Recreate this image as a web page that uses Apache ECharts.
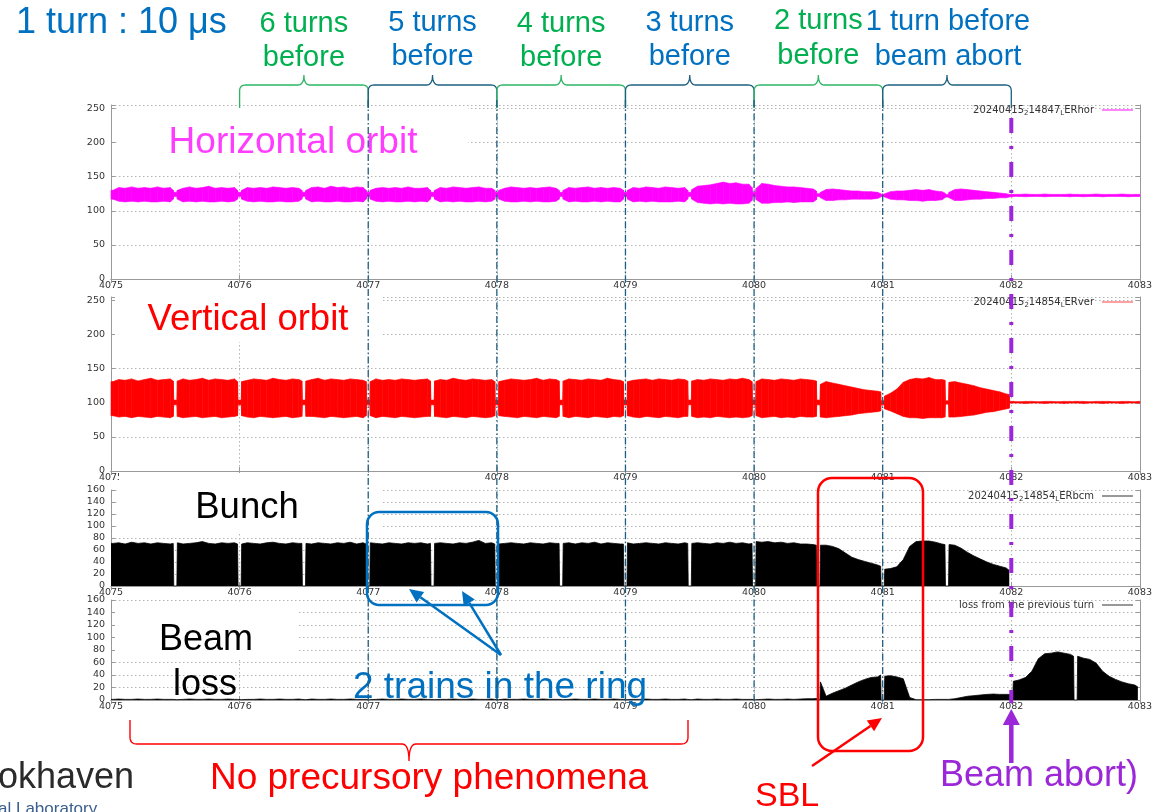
<!DOCTYPE html>
<html>
<head>
<meta charset="utf-8">
<script src="https://cdn.jsdelivr.net/npm/echarts@6/dist/echarts.min.js"></script>
<style>
  html, body { margin: 0; padding: 0; background: #fff; }
  #chart { width: 1155px; height: 812px; }
</style>
</head>
<body>
<div id="chart"></div>
<script>
// ---- turn axis: each bunch train fills half a turn ----
const trainStart = [4075.0, 4075.5, 4076.0, 4076.5, 4077.0, 4077.5, 4078.0, 4078.5,
                    4079.0, 4079.5, 4080.0, 4080.5, 4081.0, 4081.5, 4082.0, 4082.5];
// sample positions inside one train (turns after the train start)
const sampleOffset = [0.016, 0.06, 0.11, 0.16, 0.21, 0.26, 0.31, 0.36, 0.41, 0.46, 0.484];
const turnTicks = [4075, 4076, 4077, 4078, 4079, 4080, 4081, 4082, 4083];

// ---- horizontal orbit (LERhor): envelope of the oscillation, one row per train ----
const horHigh = [
  [130, 134, 133, 135, 133, 134, 133, 135, 133, 134, 130],
  [130, 133, 135, 133, 134, 136, 133, 134, 133, 134, 130],
  [130, 134, 133, 134, 133, 135, 134, 133, 134, 133, 130],
  [130, 134, 135, 133, 136, 134, 135, 133, 135, 134, 130],
  [130, 133, 134, 133, 134, 133, 135, 133, 133, 134, 130],
  [130, 134, 133, 135, 134, 133, 134, 135, 133, 133, 130],
  [130, 133, 135, 134, 133, 134, 133, 134, 135, 133, 130],
  [130, 134, 133, 134, 135, 133, 134, 133, 134, 133, 130],
  [130, 134, 133, 135, 134, 133, 135, 134, 133, 134, 130],
  [131, 136, 137, 138, 140, 142, 140, 141, 139, 139, 134],
  [133, 140, 139, 137, 136, 135, 135, 134, 133, 132, 129],
  [127, 131, 132, 131, 130, 129, 129, 128, 128, 127, 125],
  [125, 128, 129, 129, 130, 131, 130, 131, 129, 128, 126],
  [127, 131, 132, 131, 130, 129, 128, 127, 126, 125, 124],
  [124, 124, 124.5, 124, 124, 124.5, 124, 124, 124, 124.5, 124],
  [124, 124, 124, 124.5, 124, 124, 124, 124.5, 124, 124, 124]
];
const horLow = [
  [117, 114, 113, 114, 113, 114, 113, 113, 114, 113, 117],
  [117, 113, 114, 113, 114, 113, 113, 114, 113, 114, 117],
  [117, 114, 113, 114, 113, 113, 114, 113, 113, 114, 117],
  [117, 113, 114, 113, 113, 114, 113, 113, 114, 113, 117],
  [117, 114, 113, 114, 113, 113, 114, 113, 114, 113, 117],
  [117, 113, 114, 113, 114, 113, 113, 114, 113, 114, 117],
  [117, 114, 113, 113, 114, 113, 114, 113, 113, 114, 117],
  [117, 113, 114, 113, 113, 114, 113, 114, 113, 113, 117],
  [117, 113, 114, 113, 114, 113, 113, 113, 114, 113, 117],
  [117, 112, 111, 110, 111, 110, 111, 110, 110, 111, 115],
  [116, 111, 111, 112, 112, 113, 112, 113, 113, 113, 116],
  [119, 115, 115, 116, 116, 117, 117, 117, 117, 118, 120],
  [120, 117, 116, 116, 115, 115, 114, 115, 115, 116, 119],
  [119, 115, 115, 116, 117, 117, 118, 118, 119, 119, 120],
  [121, 121, 120.5, 121, 121, 120.5, 121, 121, 121, 120.5, 121],
  [121, 120.5, 121, 121, 120.5, 121, 121, 121, 120.5, 121, 121]
];
// level in the short gaps between trains (4075.5 ... 4082.5)
const horGapLow  = [121, 121, 121, 121, 121, 121, 121, 121, 121, 121, 121, 121, 120, 120.5, 121];
const horGapHigh = [127, 127, 127, 127, 127, 127, 127, 127, 127, 127, 125, 124, 124, 124, 124];

// ---- vertical orbit (LERver) ----
const verHigh = [
  [131, 134, 133, 135, 132, 134, 136, 133, 134, 135, 132],
  [132, 135, 133, 134, 136, 133, 135, 134, 133, 135, 131],
  [131, 133, 135, 134, 133, 136, 134, 133, 135, 134, 132],
  [132, 134, 136, 133, 135, 134, 133, 135, 134, 133, 131],
  [131, 135, 133, 134, 133, 135, 134, 133, 134, 135, 132],
  [132, 134, 133, 136, 134, 133, 135, 134, 133, 134, 131],
  [131, 133, 135, 134, 133, 134, 136, 133, 135, 134, 132],
  [132, 135, 134, 133, 135, 134, 133, 136, 134, 133, 131],
  [131, 133, 134, 135, 133, 135, 134, 133, 135, 134, 132],
  [132, 134, 133, 135, 134, 133, 135, 134, 136, 134, 131],
  [131, 135, 134, 133, 135, 134, 133, 135, 134, 133, 132],
  [127, 131, 129, 127, 125, 123, 121, 119, 118, 117, 116],
  [110, 114, 120, 130, 134, 136, 135, 137, 134, 134, 133],
  [130, 131, 129, 127, 125, 122, 120, 118, 116, 113, 112],
  [102, 101.5, 102, 102, 101.5, 102, 102, 101.5, 102, 102, 101.5],
  [102, 102, 101.5, 102, 102, 102, 101.5, 102, 102, 101.5, 102]
];
const verLow = [
  [81, 79, 80, 78, 80, 79, 78, 80, 79, 78, 80],
  [80, 78, 79, 80, 78, 79, 80, 78, 79, 80, 81],
  [81, 79, 78, 80, 79, 78, 79, 80, 78, 79, 80],
  [80, 80, 79, 78, 80, 79, 78, 79, 80, 78, 81],
  [81, 78, 80, 79, 78, 80, 79, 78, 79, 80, 80],
  [80, 79, 78, 80, 79, 78, 80, 79, 78, 79, 81],
  [81, 80, 79, 78, 80, 79, 78, 80, 79, 78, 80],
  [80, 78, 80, 79, 78, 80, 79, 78, 80, 79, 81],
  [81, 79, 78, 80, 79, 78, 80, 79, 78, 80, 80],
  [80, 78, 79, 78, 80, 79, 78, 79, 78, 79, 81],
  [81, 78, 79, 80, 78, 79, 78, 80, 79, 79, 80],
  [79, 78, 79, 80, 81, 82, 84, 85, 86, 87, 88],
  [91, 88, 84, 80, 78, 78, 77, 78, 78, 78, 79],
  [79, 79, 80, 81, 82, 84, 86, 87, 89, 91, 92],
  [99.5, 99.5, 99, 99.5, 99.5, 99, 99.5, 99.5, 99, 99.5, 99.5],
  [99.5, 99, 99.5, 99.5, 99, 99.5, 99.5, 99, 99.5, 99.5, 99.5]
];
const verGapLow  = [97, 97, 97, 97, 97, 97, 97, 97, 97, 97, 97, 97, 98, 99.5, 99.5];
const verGapHigh = [104, 104, 104, 104, 104, 104, 104, 104, 104, 104, 104, 103, 103, 102, 102];

// ---- bunch current (LERbcm), top of the filled trains ----
const bunch = [
  [71, 72, 70, 73, 71, 72, 70, 72, 71, 70, 71],
  [72, 70, 71, 72, 74, 71, 70, 72, 71, 72, 70],
  [70, 72, 71, 70, 72, 73, 71, 70, 72, 71, 71],
  [71, 70, 72, 71, 70, 72, 71, 73, 70, 72, 70],
  [72, 71, 70, 72, 71, 70, 72, 71, 72, 70, 71],
  [71, 72, 71, 70, 72, 71, 73, 76, 71, 72, 70],
  [70, 71, 72, 71, 70, 72, 71, 70, 72, 71, 71],
  [71, 72, 70, 72, 71, 73, 70, 72, 71, 70, 70],
  [72, 70, 71, 72, 71, 70, 72, 71, 70, 72, 71],
  [71, 72, 71, 70, 72, 71, 73, 71, 72, 70, 71],
  [74, 73, 74, 72, 73, 71, 72, 70, 70, 69, 68],
  [68, 68, 66, 62, 55, 48, 44, 41, 38, 35, 33],
  [28, 29, 32, 44, 66, 74, 75, 75, 73, 70, 69],
  [69, 68, 63, 56, 50, 45, 40, 36, 33, 30, 26],
  [null, null, null, null, null, null, null, null, null, null, null],
  [null, null, null, null, null, null, null, null, null, null, null]
];
const bunchGap = [0, 0, 0, 0, 0, 0, 0, 0, 0, 0, 0, 0, 0, null, null];

// ---- loss from the previous turn ----
const loss = [
  [1, 1.5, 1, 1, 1.5, 1, 1, 1.5, 1, 1, 1],
  [1, 1, 1.5, 1, 1, 1.5, 1, 1, 1.5, 1, 1],
  [1.5, 1, 1, 1.5, 1, 1, 1.5, 1, 1, 1.5, 1],
  [1, 1.5, 1, 1, 1.5, 1, 1, 1.5, 1, 1, 1],
  [1, 1, 1.5, 1, 1, 1.5, 1, 1, 1.5, 1, 1],
  [1.5, 1, 1, 1.5, 1, 1, 1.5, 1, 1, 1.5, 1],
  [1, 1.5, 1, 1, 1.5, 1, 1, 1.5, 1, 1, 1],
  [1, 1, 1.5, 1, 1, 1.5, 1, 1, 1.5, 1, 1],
  [1.5, 1, 1, 1.5, 1, 1, 1.5, 1, 1, 1.5, 1],
  [1, 1.5, 1, 1, 1.5, 1, 1, 1.5, 1, 1, 1],
  [1, 1, 1.5, 1, 1, 1.5, 1, 1.5, 2, 2, 2.5],
  [29, 6, 11, 15, 19, 24, 29, 33, 36, 37, 40],
  [38, 39, 37, 34, 4, 0.5, 0.5, 0.5, 1, 1, 1],
  [1.5, 2, 4, 6, 7, 8, 9, 9.5, 9, 9, 9],
  [30, 32, 36, 46, 66, 74, 75, 77, 75, 73, 70],
  [70, 67, 65, 59, 46, 38, 33, 29, 26, 24, 21]
];
const lossGap = [0.5, 0.5, 0.5, 0.5, 0.5, 0.5, 0.5, 0.5, 0.5, 0.5, 0, 0, 1, 9, 0];

// ---- panel scales ----
const yMax  = [255, 255, 160, 160];
const yStep = [50, 50, 20, 20];

// Turn the per-train rows into [turn, v1, v2, ...] points, with a narrow gap between trains.
const GAP_HALF = 0.012;
function buildTrace(rowSets, gapSets, extendToEnd) {
  const pts = [];
  const add = (x, vals) => pts.push([x].concat(vals));
  add(trainStart[0], rowSets.map(r => r[0][0]));
  trainStart.forEach((s, k) => {
    if (k > 0) {
      const g = gapSets.map(gs => gs[k - 1]);
      add(s - GAP_HALF, g);
      add(s + GAP_HALF, g);
    }
    sampleOffset.forEach((o, j) => add(s + o, rowSets.map(r => r[k][j])));
  });
  if (extendToEnd) {
    const last = pts[pts.length - 1];
    add(turnTicks[turnTicks.length - 1], last.slice(1));
  }
  return pts;
}

const horPts   = buildTrace([horLow, horHigh], [horGapLow, horGapHigh], true);
const verPts   = buildTrace([verLow, verHigh], [verGapLow, verGapHigh], true);
const bunchPts = buildTrace([bunch], [bunchGap], false);
const lossPts  = buildTrace([loss], [lossGap], false);

const chart = echarts.init(document.getElementById('chart'));

const grids = [
  { left: 111, top: 105, width: 1034, height: 174 },
  { left: 111, top: 297, width: 1034, height: 174 },
  { left: 111, top: 490, width: 1034, height: 96 },
  { left: 111, top: 600, width: 1034, height: 100 }
];

const tickFont = { fontFamily: 'DejaVu Sans', fontSize: 9.5, color: '#333' };
const frame = { show: true, lineStyle: { color: '#999', width: 1 } };
const dotted = { show: true, lineStyle: { color: '#b4b4b4', width: 1, type: [1.5, 2.5] } };

const xAxes = [], yAxes = [];
grids.forEach((g, i) => {
  xAxes.push({
    type: 'value', gridIndex: i, min: turnTicks[0], max: turnTicks[turnTicks.length - 1], interval: 1,
    axisLine: frame, axisTick: { inside: true, length: 4, lineStyle: { color: '#999' } },
    axisLabel: Object.assign({ margin: 2, formatter: v => String(v) }, tickFont),
    splitLine: dotted
  });
  yAxes.push({
    type: 'value', gridIndex: i, min: 0, max: yMax[i], interval: yStep[i],
    axisLine: frame, axisTick: { inside: true, length: 4, lineStyle: { color: '#999' } },
    axisLabel: Object.assign({ margin: 6, formatter: v => (v % yStep[i] === 0 ? String(v) : '') }, tickFont),
    splitLine: dotted
  });
});
grids.forEach((g, i) => {
  xAxes.push({
    type: 'value', gridIndex: i, position: 'top', min: turnTicks[0], max: turnTicks[turnTicks.length - 1], interval: 1,
    axisLine: frame, axisTick: { inside: true, length: 4, lineStyle: { color: '#999' } },
    axisLabel: { show: false }, splitLine: { show: false }
  });
  yAxes.push({
    type: 'value', gridIndex: i, position: 'right', min: 0, max: yMax[i], interval: yStep[i],
    axisLine: frame, axisTick: { inside: true, length: 4, lineStyle: { color: '#999' } },
    axisLabel: { show: false }, splitLine: { show: false }
  });
});

// Filled band between the lower and upper envelope, one quad per sample step.
function bandSeries(name, idx, pts, color) {
  return {
    name, type: 'custom', xAxisIndex: idx, yAxisIndex: idx, data: pts,
    encode: { x: 0, y: [1, 2] }, silent: true, animation: false,
    renderItem(params, api) {
      const i = params.dataIndex;
      if (i >= pts.length - 1) return { type: 'group', children: [] };
      const a = pts[i], b = pts[i + 1];
      return {
        type: 'polygon',
        shape: { points: [api.coord([a[0], a[2]]), api.coord([b[0], b[2]]),
                          api.coord([b[0], b[1]]), api.coord([a[0], a[1]])] },
        style: { fill: color, stroke: color, lineWidth: 0.6 }
      };
    }
  };
}
function filledSeries(name, idx, pts) {
  return {
    name, type: 'line', xAxisIndex: idx, yAxisIndex: idx, data: pts,
    symbol: 'none', showSymbol: false, silent: true, animation: false,
    lineStyle: { color: '#000', width: 0.8 }, areaStyle: { color: '#000', opacity: 1 }
  };
}

chart.setOption({
  backgroundColor: '#fff',
  animation: false,
  grid: grids,
  xAxis: xAxes,
  yAxis: yAxes,
  series: [
    bandSeries('LERhor', 0, horPts, '#ff00ff'),
    bandSeries('LERver', 1, verPts, '#ff0000'),
    filledSeries('LERbcm', 2, bunchPts),
    filledSeries('loss from the previous turn', 3, lossPts)
  ]
});

// ---- slide annotations ----
const px = v => chart.convertToPixel({ xAxisIndex: 0 }, v);
const BLUE = '#0070C0', GREEN = '#00B050', RED = '#FF0000', PURPLE = '#9B27D8';
const TEAL = '#1D5F80', LIGHTGREEN = '#2DB565';
const SANS = '"Liberation Sans", Arial, sans-serif';

const gfx = [];
function txt(text, x, y, size, color, align, z) {
  gfx.push({ type: 'text', x, y, z: z || 120, silent: true,
    style: { text, fill: color, fontSize: size, fontFamily: SANS, align: align || 'center', verticalAlign: 'middle' } });
}
function quadPts(out, p0, c, p1) {
  for (let t = 0; t <= 1.0001; t += 0.125) {
    const u = 1 - t;
    out.push([u * u * p0[0] + 2 * u * t * c[0] + t * t * p1[0], u * u * p0[1] + 2 * u * t * c[1] + t * t * p1[1]]);
  }
}
function brace(x1, x2, yEnd, yBar, yTip, r, color, w) {
  const xm = (x1 + x2) / 2, s = Math.sign(yEnd - yBar);
  const p = [[x1, yEnd]];
  quadPts(p, [x1, yBar + s * r], [x1, yBar], [x1 + r, yBar]);
  quadPts(p, [xm - r, yBar], [xm, yBar], [xm, yTip]);
  quadPts(p, [xm, yTip], [xm, yBar], [xm + r, yBar]);
  quadPts(p, [x2 - r, yBar], [x2, yBar], [x2, yBar + s * r]);
  p.push([x2, yEnd]);
  gfx.push({ type: 'polyline', z: 130, silent: true, shape: { points: p },
    style: { stroke: color, lineWidth: w, fill: null } });
}
function arrow(x1, y1, x2, y2, color, w, headLen, headW) {
  const dx = x2 - x1, dy = y2 - y1, L = Math.hypot(dx, dy), ux = dx / L, uy = dy / L;
  const bx = x2 - ux * headLen, by = y2 - uy * headLen;
  gfx.push({ type: 'line', z: 140, silent: true, shape: { x1, y1, x2: bx, y2: by },
    style: { stroke: color, lineWidth: w } });
  gfx.push({ type: 'polygon', z: 140, silent: true,
    shape: { points: [[x2, y2], [bx - uy * headW / 2, by + ux * headW / 2], [bx + uy * headW / 2, by - ux * headW / 2]] },
    style: { fill: color } });
}
function box(x, y, w, h) {
  gfx.push({ type: 'rect', z: 100, silent: true, shape: { x, y, width: w, height: h }, style: { fill: '#fff' } });
}

// white text boxes lying over the plots
box(118, 106, 350, 66);
box(115, 293, 268, 49);
box(119, 473, 262, 59);
box(115, 604, 183, 54);

// title and turn labels
txt('1 turn : 10 \u03bcs', 16, 23.4, 36, BLUE, 'left');
const turnLabels = [
  ['6 turns', 'before', GREEN, 24, 58],
  ['5 turns', 'before', BLUE, 23, 57],
  ['4 turns', 'before', GREEN, 24, 58],
  ['3 turns', 'before', BLUE, 23, 57],
  ['2 turns', 'before', GREEN, 21, 56],
  ['1 turn before', 'beam abort', BLUE, 22, 57]
];
turnLabels.forEach((t, k) => {
  const x1 = px(4076 + k), x2 = px(4077 + k), xm = (x1 + x2) / 2;
  txt(t[0], xm + (k === 5 ? 1 : 0), t[3], 29, t[2]);
  txt(t[1], xm + (k === 5 ? 1 : 0), t[4], 29, t[2]);
  brace(x1, x2, 108, 85, 75, 6, k % 2 === 0 ? LIGHTGREEN : TEAL, 1.3);
});

// panel labels
txt('Horizontal orbit', 293, 143, 37, '#ff3dff');
txt('Vertical orbit', 248, 320, 36.5, RED);
txt('Bunch', 247, 508, 36.5, '#000');
txt('Beam', 206, 640, 36, '#000');
txt('loss', 205, 685, 36, '#000');

// per-panel key (text + line sample)
const keyRight = 1094;
function key(label, y, color, w) {
  gfx.push({ type: 'text', x: keyRight, y, z: 120, silent: true,
    style: { text: label, fill: '#333', fontSize: 10, fontFamily: 'DejaVu Sans', align: 'right', verticalAlign: 'middle',
      lineHeight: 13, rich: { s: { fontSize: 7, lineHeight: 7, verticalAlign: 'bottom', fill: '#333', fontFamily: 'DejaVu Sans' } } } });
  gfx.push({ type: 'line', z: 120, silent: true, shape: { x1: 1102, y1: y, x2: 1133, y2: y },
    style: { stroke: color, lineWidth: w } });
}
key('20240415{s|2}14847{s|L}ERhor', 110, '#ff66ff', 1.6);
key('20240415{s|2}14854{s|L}ERver', 302, '#ff4040', 1);
key('20240415{s|2}14854{s|L}ERbcm', 496, '#333', 1);
key('loss from the previous turn', 605, '#333', 1);

// turn markers
[4077, 4078, 4079, 4080, 4081].forEach(t => {
  const x = px(t);
  gfx.push({ type: 'line', z: 135, silent: true, shape: { x1: x, y1: 100, x2: x, y2: 704 },
    style: { stroke: TEAL, lineWidth: 1.3, lineDash: [7, 2.5, 1.5, 2.5] } });
});
const xAbort = px(4082);
gfx.push({ type: 'line', z: 136, silent: true, shape: { x1: xAbort, y1: 118, x2: xAbort, y2: 703 },
  style: { stroke: PURPLE, lineWidth: 4, lineDash: [15, 13, 3, 13] } });

// highlight boxes
gfx.push({ type: 'rect', z: 138, silent: true, shape: { x: 818, y: 478, width: 105, height: 273, r: 14 },
  style: { fill: null, stroke: RED, lineWidth: 2.5 } });
gfx.push({ type: 'rect', z: 138, silent: true, shape: { x: 367, y: 512, width: 131, height: 93, r: 12 },
  style: { fill: null, stroke: BLUE, lineWidth: 2.5 } });

// arrows
arrow(501, 655, 409, 589, BLUE, 2.5, 14, 13);
arrow(501, 655, 462, 591, BLUE, 2.5, 14, 13);
arrow(812, 766, 882, 718, RED, 2.5, 14, 13);
arrow(xAbort, 763, xAbort, 709, PURPLE, 4.5, 16, 17);

txt('2 trains in the ring', 500, 688, 37, BLUE);

// bottom notes
brace(130, 688, 720, 744, 761, 7, RED, 1.4);
txt('No precursory phenomena', 429, 779, 37, RED);
txt('SBL', 755, 797, 34, RED, 'left');
txt('Beam abort)', 940, 776, 36, PURPLE, 'left');
txt('okhaven', -2, 778, 36, '#2b2b2b', 'left');
txt('al Laboratory', -2, 809, 17, '#3a5f8f', 'left');

chart.setOption({ graphic: gfx });
</script>
</body>
</html>
